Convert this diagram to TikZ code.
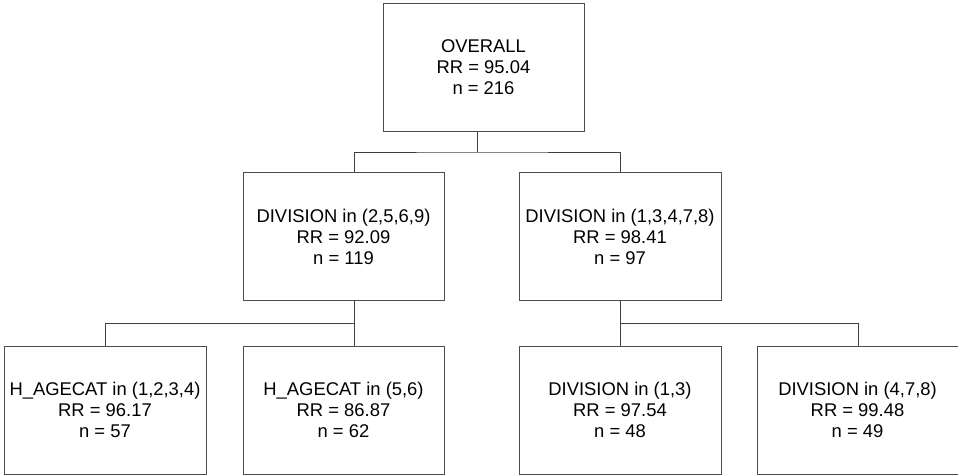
\documentclass[tikz,border=0pt]{standalone}
\usepackage{fontspec}
\setmainfont{Liberation Sans}
\begin{document}
\begin{tikzpicture}[x=1pt,y=-1pt,
  treebox/.style={draw=black!70, line width=1pt, fill=white, rectangle, inner sep=0pt,
    minimum width=201pt, minimum height=128pt, align=center,
    font=\fontsize{18.4}{21}\selectfont},
  link/.style={draw=black!75, line width=1pt}]
\useasboundingbox (0,0) rectangle (958,475);
\node[treebox] (root) at (483.5,67) {OVERALL\\RR = 95.04\\n = 216};
\node[treebox] (l) at (343.5,236.5) {DIVISION in (2,5,6,9)\\RR = 92.09\\n = 119};
\node[treebox, minimum width=202pt] (r) at (620,236.5) {DIVISION in (1,3,4,7,8)\\RR = 98.41\\n = 97};
\node[treebox, minimum width=202pt] (b1) at (105,410) {H\_AGECAT in (1,2,3,4)\\RR = 96.17\\n = 57};
\node[treebox] (b2) at (343.5,410) {H\_AGECAT in (5,6)\\RR = 86.87\\n = 62};
\node[treebox, minimum width=202pt] (b3) at (620,410) {DIVISION in (1,3)\\RR = 97.54\\n = 48};
\node[treebox] (b4) at (857.5,410) {DIVISION in (4,7,8)\\RR = 99.48\\n = 49};
\coordinate (j1) at (477,152);
\coordinate (j2) at (354,323);
\coordinate (j3) at (620,323);
\draw[link] ([xshift=-6.5pt]root.south) -- (j1);
\draw[link] ([xshift=10.5pt]l.north) |- (j1) -| (r.north);
\draw[link] ([xshift=10.5pt]l.south) -- ([xshift=10.5pt]b2.north);
\draw[link] (b1.north) |- (j2);
\draw[link] (r.south) -- (b3.north);
\draw[link] (j3) -| ([xshift=0.5pt]b4.north);
\end{tikzpicture}
\end{document}
